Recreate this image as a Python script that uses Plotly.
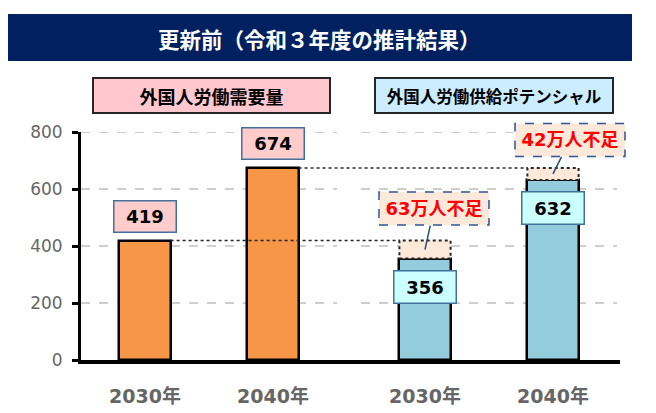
import plotly.graph_objects as go

# Data
years = ['2030年', '2040年']
demand = [419, 674]          # 外国人労働需要量 (万人)
supply = [356, 632]          # 外国人労働供給ポテンシャル (万人)
y_ticks = [0, 200, 400, 600, 800]
title_text = '更新前（令和３年度の推計結果）'
demand_name = '外国人労働需要量'
supply_name = '外国人労働供給ポテンシャル'

FONT = 'Noto Sans CJK JP'
NUM_FONT = 'DejaVu Sans, Noto Sans CJK JP'
ORANGE = '#F79646'
BLUE = '#93CDDD'
PEACH = '#FDE9D9'
NAVY = '#002060'
GREY = '#666666'

# Layout geometry
W, H = 656, 413
M = dict(l=81, r=36, t=132, b=53)
PW = W - M['l'] - M['r']
PH = H - M['t'] - M['b']
X_RANGE = [-0.5, 3.711]
Y_RANGE = [0, 800]
BAR_W = 0.4

x_demand = [0, 1]
x_supply = [2.1875, 3.1875]


def px_x(p):
    """Pixel x -> paper fraction."""
    return (p - M['l']) / PW


def px_y(p):
    """Pixel y (from top) -> paper fraction."""
    return (H - M['b'] - p) / PH


def data_x(v):
    return (v - X_RANGE[0]) / (X_RANGE[1] - X_RANGE[0])


def data_y(v):
    return (v - Y_RANGE[0]) / (Y_RANGE[1] - Y_RANGE[0])


fig = go.Figure()

fig.add_trace(go.Bar(
    x=x_demand, y=demand, width=BAR_W,
    marker=dict(color=ORANGE, line=dict(color='black', width=2.5)),
    hoverinfo='skip', showlegend=False,
))
fig.add_trace(go.Bar(
    x=x_supply, y=supply, width=BAR_W,
    marker=dict(color=BLUE, line=dict(color='black', width=2.5)),
    hoverinfo='skip', showlegend=False,
))

shapes = []

# Banner
shapes.append(dict(
    type='rect', xref='paper', yref='paper',
    x0=px_x(8), x1=px_x(632), y0=px_y(61), y1=px_y(14),
    fillcolor=NAVY, line=dict(width=0),
))

# Dashed gridlines, broken between the two panels
for v in y_ticks[1:]:
    for x0, x1 in [(X_RANGE[0], 1.5), (1.6875, 3.6875)]:
        shapes.append(dict(
            type='line', xref='x', yref='y', x0=x0, x1=x1, y0=v, y1=v,
            layer='below', line=dict(color='#BFBFBF', width=1.3, dash='dash'),
        ))

# Dotted lines from demand bar tops over to the supply bars
for xd, xs, d in zip(x_demand, x_supply, demand):
    shapes.append(dict(
        type='line', xref='x', yref='y',
        x0=xd + BAR_W / 2, x1=xs - BAR_W / 2, y0=d, y1=d,
        line=dict(color='#262626', width=1.5, dash='dot'),
    ))

# Shortage rectangles on top of the supply bars
for xs, d, s in zip(x_supply, demand, supply):
    shapes.append(dict(
        type='rect', xref='x', yref='y',
        x0=xs - BAR_W / 2, x1=xs + BAR_W / 2, y0=s, y1=d,
        fillcolor=PEACH, line=dict(color='#262626', width=2, dash='dot'),
    ))

annotations = [
    dict(
        text='<b>' + title_text + '</b>', xref='paper', yref='paper',
        x=px_x(319), y=px_y(38), xanchor='center', yanchor='middle',
        showarrow=False, font=dict(family=FONT, size=21.5, color='white'),
    ),
    dict(
        text='<b>' + demand_name + '</b>', xref='paper', yref='paper',
        x=px_x(211.5), y=px_y(95.5), xanchor='center', yanchor='middle',
        showarrow=False, width=233, height=31, bgcolor='#FFC7CE',
        bordercolor='#262626', borderwidth=2,
        font=dict(family=FONT, size=18, color='black'),
    ),
    dict(
        text='<b>' + supply_name + '</b>', xref='paper', yref='paper',
        x=px_x(494), y=px_y(95.5), xanchor='center', yanchor='middle',
        showarrow=False, width=234, height=31, bgcolor='#CCECFF',
        bordercolor='#262626', borderwidth=2,
        font=dict(family=FONT, size=16.5, color='black'),
    ),
]

# Value boxes
for xd, d in zip(x_demand, demand):
    annotations.append(dict(
        text=f'<b>{d}</b>', x=xd, y=d, xref='x', yref='y', yshift=24,
        xanchor='center', yanchor='middle',
        showarrow=False, width=59, height=28, bgcolor='#FFCCCC',
        bordercolor='#41719C', borderwidth=1.5,
        font=dict(family=NUM_FONT, size=18, color='black'),
    ))
for xs, s in zip(x_supply, supply):
    annotations.append(dict(
        text=f'<b>{s}</b>', x=xs, y=s, xref='x', yref='y', yshift=-28,
        xanchor='center', yanchor='middle',
        showarrow=False, width=59, height=29, bgcolor='#CCFFFF',
        bordercolor='#41719C', borderwidth=1.5,
        font=dict(family=NUM_FONT, size=18, color='black'),
    ))

# Shortage callouts: dashed peach box drawn as a shape, text + leader
# line as an annotation on top of it
callout_offsets = [(9, -41), (17, -34)]
for xs, d, s, (ax, ay) in zip(x_supply, demand, supply, callout_offsets):
    mid = (d + s) / 2
    shapes.append(dict(
        type='rect', xref='paper', yref='paper',
        xsizemode='pixel', ysizemode='pixel',
        xanchor=data_x(xs), yanchor=data_y(mid),
        x0=ax - 55, x1=ax + 55, y0=-ay - 16.5, y1=-ay + 16.5,
        fillcolor=PEACH, line=dict(color='#2F5597', width=1.5, dash='dash'),
    ))
    annotations.append(dict(
        text=f'<b>{d - s}万人不足</b>', x=xs, y=mid, xref='x', yref='y',
        ax=ax, ay=ay, showarrow=True, arrowhead=0, arrowwidth=1.5,
        arrowcolor='#1F4E79', width=108, height=31,
        font=dict(family=NUM_FONT, size=18, color='#FF0000'),
    ))

fig.update_layout(
    width=W, height=H,
    margin=dict(M, pad=0, autoexpand=False),
    paper_bgcolor='white', plot_bgcolor='white',
    bargap=0, barmode='overlay',
    shapes=shapes, annotations=annotations,
    xaxis=dict(
        range=X_RANGE, showgrid=False, zeroline=False,
        showline=True, linecolor='black', linewidth=3.5,
        tickvals=x_demand + x_supply, ticktext=years + years,
        ticks='', ticklabelstandoff=16,
        tickfont=dict(family=NUM_FONT, size=19, color=GREY, weight='bold'),
        fixedrange=True,
    ),
    yaxis=dict(
        range=Y_RANGE, tickvals=y_ticks, showgrid=False, zeroline=False,
        showline=True, linecolor='black', linewidth=3,
        ticks='outside', ticklen=6, tickwidth=2.5, tickcolor='black',
        ticklabelstandoff=6,
        tickfont=dict(family=NUM_FONT, size=17, color=GREY),
        fixedrange=True,
    ),
)

# Drop the browser's default body margin so the figure sits at (0, 0)
fig.write_html(
    'out.html',
    config=dict(displayModeBar=False),
    post_script="document.body.style.margin = '0';",
)
